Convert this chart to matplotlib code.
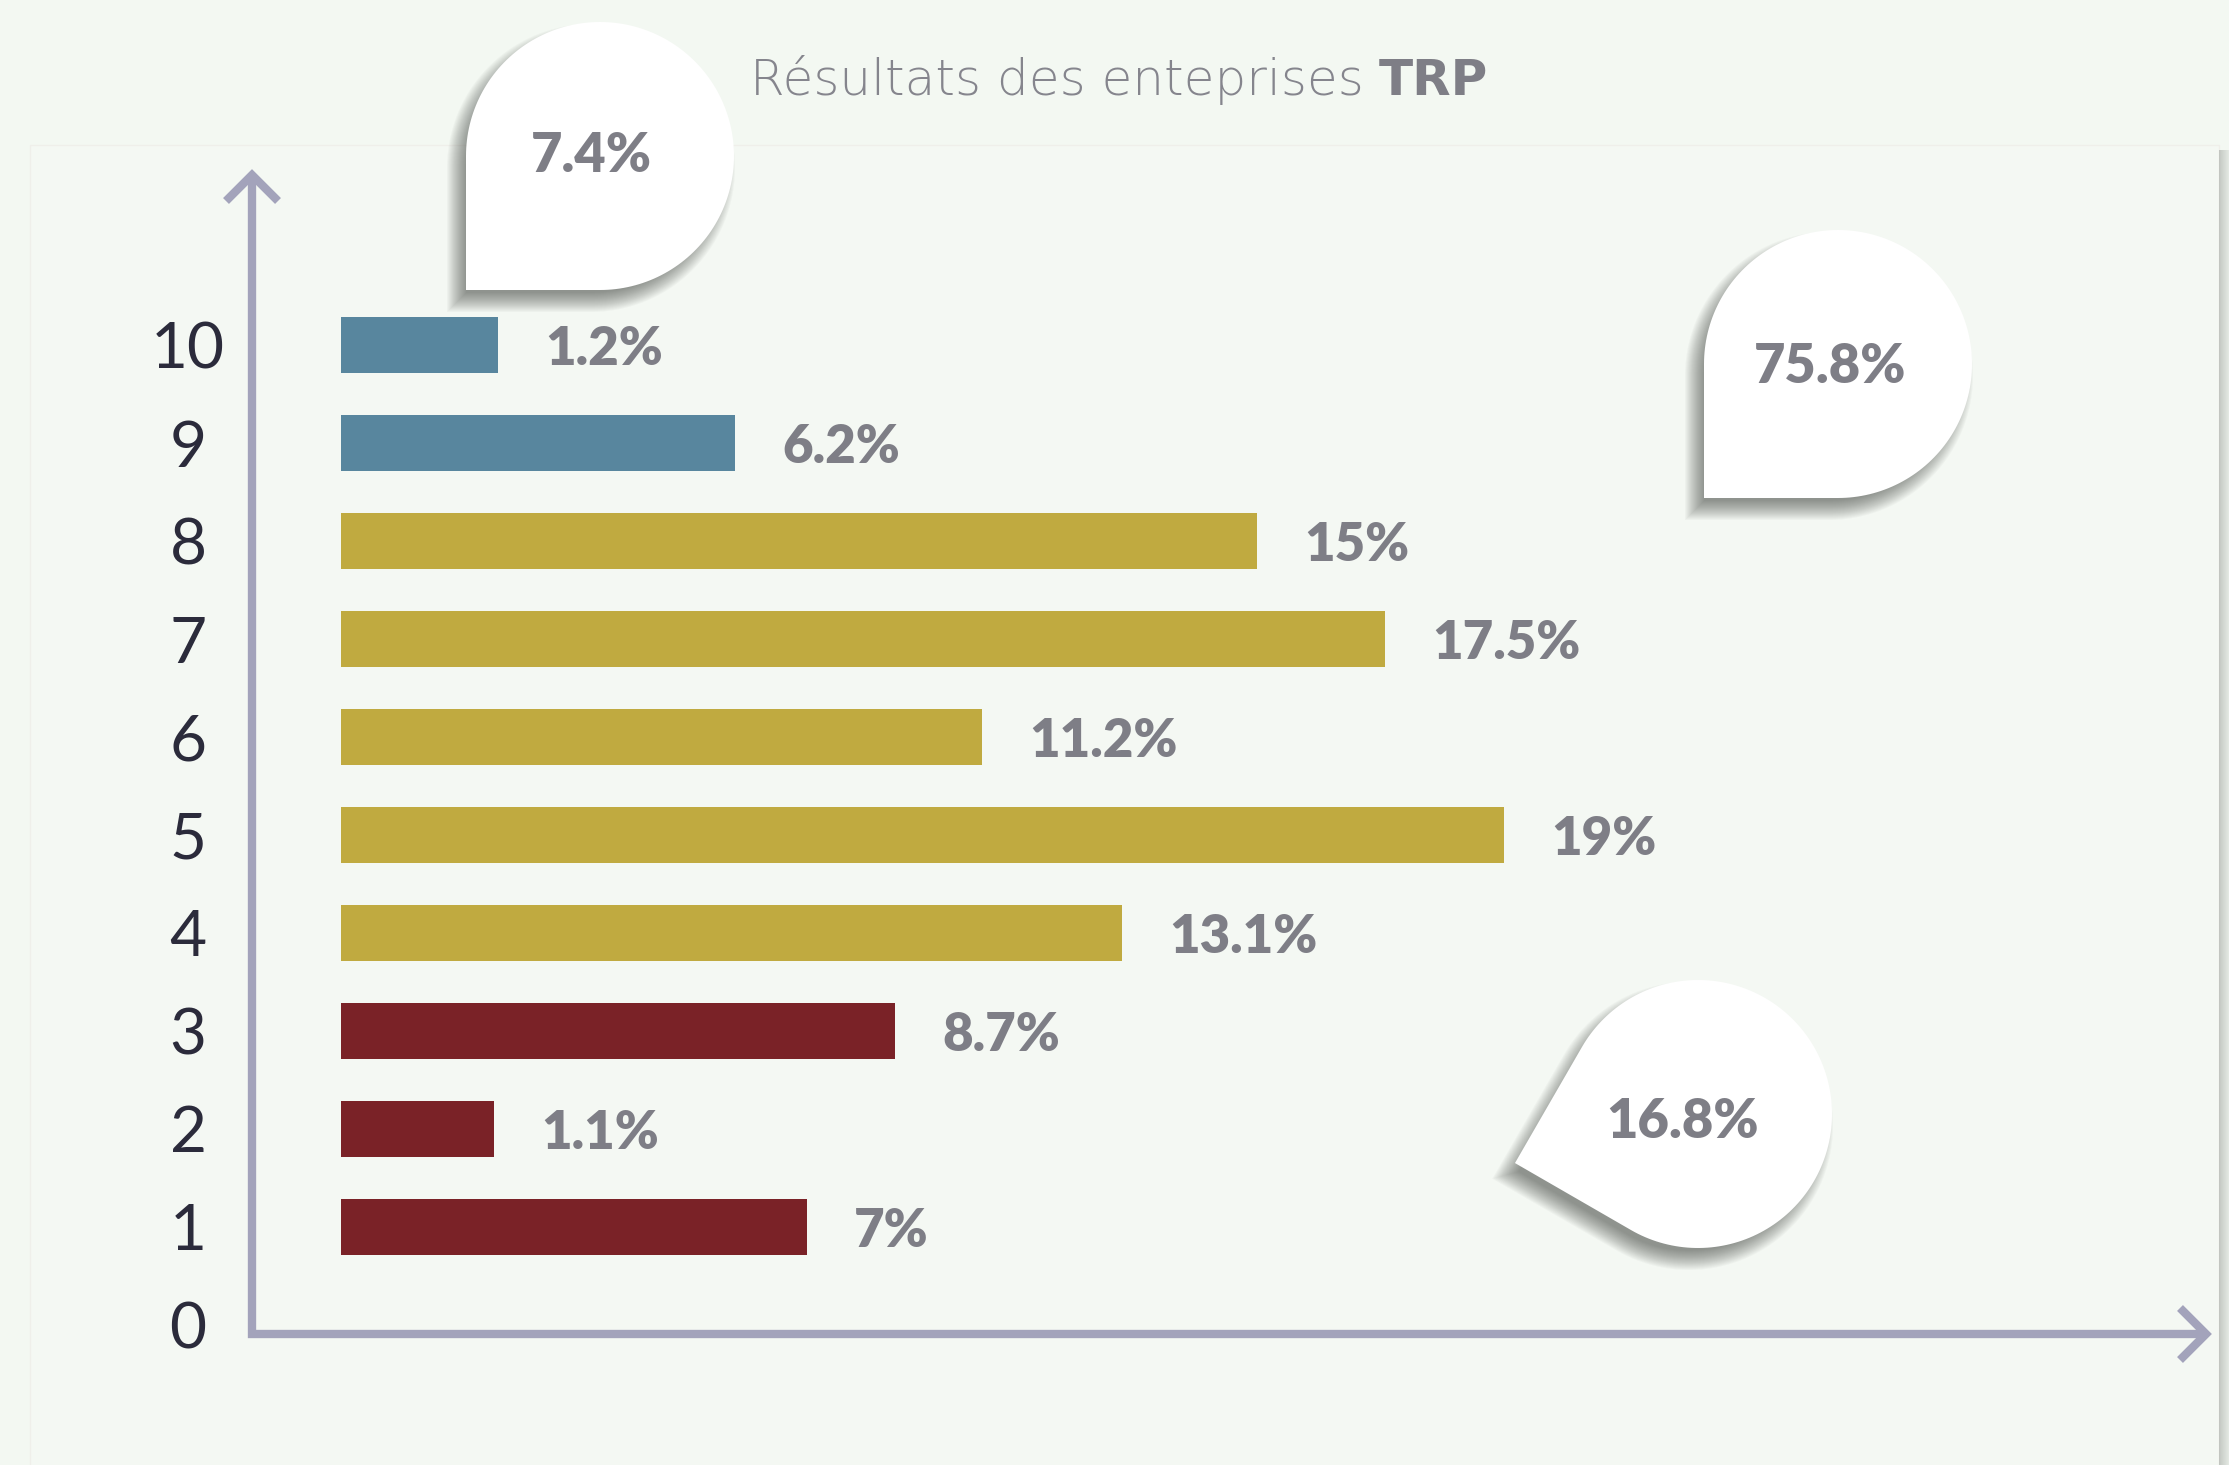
import numpy as np
import matplotlib.pyplot as plt
from matplotlib.patches import Polygon, Rectangle

# data
categories = [1, 2, 3, 4, 5, 6, 7, 8, 9, 10]
values = [7, 1.1, 8.7, 13.1, 19, 11.2, 17.5, 15, 6.2, 1.2]
# drawn bar lengths (the infographic does not draw them to scale)
bar_lengths = [7.61, 2.50, 9.05, 12.76, 19.0, 10.47, 17.06, 14.97, 6.44, 2.57]
groups = [0, 0, 0, 1, 1, 1, 1, 1, 2, 2]
group_colors = ['#7a2227', '#c0aa40', '#58869e']
tick_labels = [str(i) for i in range(11)]

BG = '#f3f8f2'
AXIS_COL = '#a3a3bb'
LABEL_COL = '#7e7e86'
FONT = 'Lato'

W, H = 2229, 1465
fig = plt.figure(figsize=(W / 100, H / 100), dpi=100)
fig.patch.set_facecolor(BG)

# background layer in pixel coordinates
bg = fig.add_axes([0, 0, 1, 1], zorder=0)
bg.set_xlim(0, W)
bg.set_ylim(H, 0)
bg.axis('off')
bg.add_patch(Rectangle((30, 145), 2189, 1400, facecolor='#f4f8f3',
                       edgecolor='#efefea', lw=1))
for i in range(10):
    bg.add_patch(Rectangle((2219 + i, 150), 1, 1400, facecolor='#9ea39e',
                           alpha=0.55 - i * 0.04, lw=0))

# axis lines with open arrow heads
bg.plot([252, 252, 2206], [175, 1334, 1334], color=AXIS_COL, lw=6,
        solid_joinstyle='miter', solid_capstyle='butt')
bg.plot([226, 252, 278], [201, 175, 201], color=AXIS_COL, lw=6,
        solid_joinstyle='miter', solid_capstyle='butt')
bg.plot([2180, 2206, 2180], [1308, 1334, 1360], color=AXIS_COL, lw=6,
        solid_joinstyle='miter', solid_capstyle='butt')

# main chart
ax = fig.add_axes([252 / W, (H - 1334) / H, (2206 - 252) / W, (1334 - 175) / H],
                  zorder=1)
ax.set_facecolor('none')
ax.set_xlim(-89 / 61.2, 1865 / 61.2)
ax.set_ylim(-9 / 98, 1150 / 98)
for s in ax.spines.values():
    s.set_visible(False)

colors = [group_colors[g] for g in groups]
ax.barh(categories, bar_lengths, height=0.57, color=colors)

for k, length, v in zip(categories, bar_lengths, values):
    ax.annotate(f"{v:g}%", (length, k), xytext=(34, -3), textcoords='offset points',
                ha='left', va='center', fontsize=38, fontweight='heavy',
                color=LABEL_COL, family=FONT)

ax.set_xticks([])
ax.set_yticks(range(11))
ax.set_yticklabels(tick_labels, fontsize=46, fontweight='normal', family=FONT,
                   color='#2b2b3b', ha='center')
ax.tick_params(axis='y', length=0, pad=46)

# speech bubbles with group totals
top = fig.add_axes([0, 0, 1, 1], zorder=2)
top.set_xlim(0, W)
top.set_ylim(H, 0)
top.axis('off')


def bubble_points(cx, cy, r, ang):
    a = np.deg2rad(ang)
    t = np.linspace(a + np.pi / 4, a + 2 * np.pi - np.pi / 4, 160)
    pts = np.column_stack([cx + r * np.cos(t), cy + r * np.sin(t)])
    tip = [cx + r * np.sqrt(2) * np.cos(a), cy + r * np.sqrt(2) * np.sin(a)]
    return np.vstack([pts, tip])


def bubble(cx, cy, r, ang, text, tx, ty):
    base = bubble_points(cx, cy, r, ang)
    # soft shadow, towards the lower left
    for i in range(20):
        grow = 10 - i
        pts = (base - [cx, cy]) * (r + grow) / r + [cx - 9, cy + 12]
        top.add_patch(Polygon(pts, closed=True, facecolor='#2e322e',
                              alpha=0.03, lw=0))
    top.add_patch(Polygon(base, closed=True, facecolor='white', lw=0))
    top.text(tx, ty + 4, text, ha='center', va='center', fontsize=39,
             fontweight='heavy', color=LABEL_COL, family=FONT)


totals = {}
for g, v in zip(groups, values):
    totals[g] = totals.get(g, 0) + v

bubble(600, 156, 134, 135, f"{totals[2]:.1f}%", 591, 152)
bubble(1838, 364, 134, 135, f"{totals[1]:.1f}%", 1830, 363)
bubble(1698, 1114, 134, 165, f"{totals[0]:.1f}%", 1683, 1118)

# title, light part plus bold "TRP"
t1 = fig.text(0, 1 - 95 / H, "Résultats des enteprises ", fontsize=36,
              fontweight='light', color='#85858d', family='DejaVu Sans',
              va='baseline')
t2 = fig.text(0, 1 - 95 / H, "TRP", fontsize=36, fontweight='bold',
              color='#7e7e86', family='DejaVu Sans', va='baseline')
fig.canvas.draw()
r = fig.canvas.get_renderer()
w1 = t1.get_window_extent(r).width
w2 = t2.get_window_extent(r).width
x0 = 1119 - (w1 + w2) / 2
t1.set_x(x0 / W)
t2.set_x((x0 + w1) / W)

fig.savefig('out.png', dpi=100, facecolor=BG)
